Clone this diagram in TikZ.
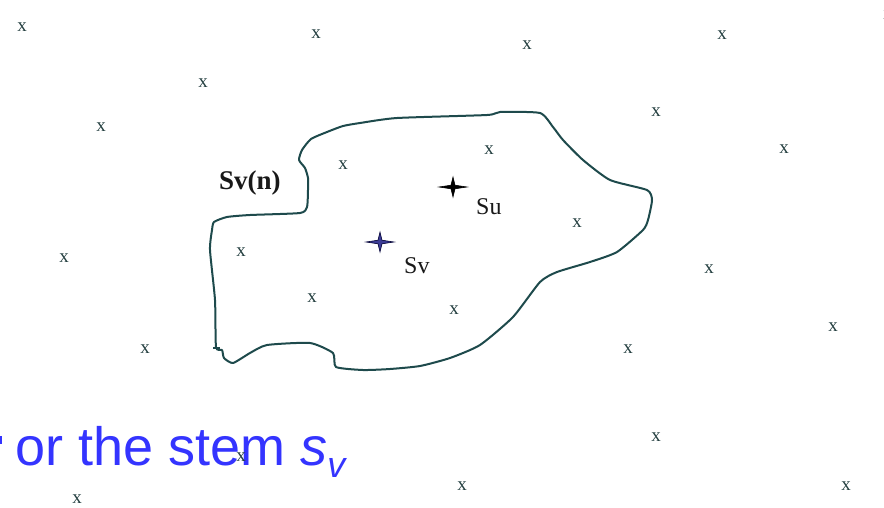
\documentclass[tikz,border=0pt]{standalone}
\usepackage{fontspec}
\setmainfont{Liberation Serif}
\newfontfamily\blueface{Liberation Sans}
\definecolor{curvecol}{HTML}{1E4A4C}
\definecolor{xcol}{HTML}{243F40}
\definecolor{bluetxt}{HTML}{3434FF}
\definecolor{starblue}{HTML}{3C3C96}
\tikzset{
  xmark/.style={inner sep=0pt, text=xcol, font=\fontsize{19}{19}\selectfont},
  lbl/.style={inner sep=0pt, text=black!90, font=\fontsize{24}{24}\selectfont, anchor=base west},
  region/.style={draw=curvecol, line width=2pt, line join=round},
}
\newcommand{\starshape}[3]{%
  \draw[draw=#2, fill=#3, line width=0.6pt, line join=miter]
    (#1) +(-14,0) -- +(-2,1.8) -- +(0,10) -- +(2,1.8) -- +(14,0) -- +(2,-1.8) -- +(0,-10) -- +(-2,-1.8) -- cycle;}
\begin{document}
\begin{tikzpicture}[x=1pt,y=-1pt]
\path[use as bounding box, fill=white] (0,0) rectangle (884,507);
\clip (0,0) rectangle (884,507);
% region boundary
\draw[region] plot[smooth cycle, tension=0.35] coordinates {
 (212,230) (214,222) (227,217) (250,215) (300,213) (307,207) (308,190) (308,178) (305,168) (299,160)
 (302,150) (311,139) (327,132) (343,126) (360,123) (397,118) (487,115) (500,112) (540,113)
 (553,127) (563,140) (583,160) (610,180) (647,190) (652,200) (648,220) (643,230) (617,252)
 (590,262) (557,272) (540,282) (513,317) (480,345) (450,358) (420,366) (390,369) (363,370)
 (336,367) (333,353) (310,343) (267,345) (250,353) (233,363) (224,358) (222,350) (216,347)
 (215,300) (210,250)};
\draw[curvecol, line width=1.4pt] (213,348) -- (220,348);
% stars
\coordinate (su) at (453,187);
\coordinate (sv) at (380,242);
\starshape{su}{black}{black}
\starshape{sv}{black!80!blue}{starblue}
% labels
\node[lbl] (lsu) at (476,214) {Su};
\node[lbl] (lsv) at (404,273) {Sv};
\node[lbl, font=\fontsize{27}{27}\selectfont\bfseries] (lsvn) at (219,189) {Sv(n)};
% blue text
\node[inner sep=0pt, anchor=base west, text=bluetxt, font=\blueface\fontsize{54}{54}\selectfont] (stem) at (15,465)
  {or the stem \textit{s}\raisebox{-12pt}{\fontsize{36}{36}\selectfont\textit{v}}};
\fill[bluetxt] (0,436) rectangle (2,444);
% x marks
\foreach \n/\p in {1/{(22,27)},2/{(316,34)},3/{(527,45)},4/{(722,35)},5/{(888,15)},6/{(203,83)},
 7/{(656,112)},8/{(101,127)},9/{(489,150)},10/{(343,165)},11/{(784,149)},12/{(577,223)},
 13/{(241,252)},14/{(64,258)},15/{(709,269)},16/{(312,298)},17/{(454,310)},18/{(833,327)},
 19/{(145,349)},20/{(628,349)},21/{(656,437)},22/{(462,486)},23/{(77,499)},24/{(846,486)},25/{(241,457)}}
 \node[xmark] (x\n) at \p {x};
\end{tikzpicture}
\end{document}
